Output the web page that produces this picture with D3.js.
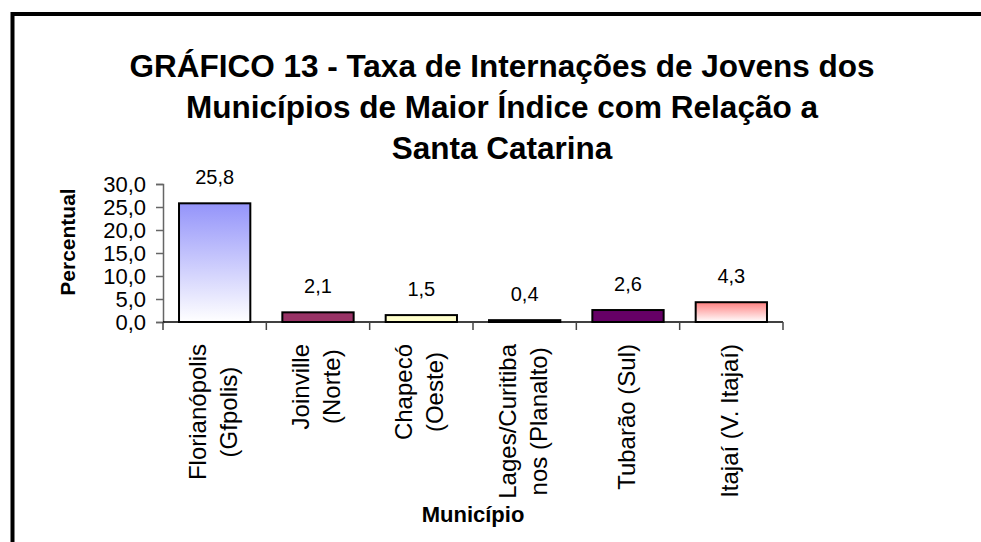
<!DOCTYPE html>
<html>
<head>
<meta charset="utf-8">
<script src="https://cdn.jsdelivr.net/npm/d3@7"></script>
<style>
  body { margin: 0; background: #fff; }
  text { font-family: "Liberation Sans", Arial, sans-serif; fill: #000; }
</style>
</head>
<body>
<div id="chart"></div>
<script>
var categories = [
  ["Florianópolis", "(Gfpolis)"],
  ["Joinville", "(Norte)"],
  ["Chapecó", "(Oeste)"],
  ["Lages/Curitiba", "nos (Planalto)"],
  ["Tubarão (Sul)"],
  ["Itajaí (V. Itajaí)"]
];
var values = [25.8, 2.1, 1.5, 0.4, 2.6, 4.3];
var yTicks = [0, 5, 10, 15, 20, 25, 30];
var titleLines = [
  "GRÁFICO 13 - Taxa de Internações de Jovens dos",
  "Municípios de Maior Índice com Relação a",
  "Santa Catarina"
];

var width = 981,
height = 542;

var svg = d3.select("#chart")
.append("svg")
.attr("width", width)
.attr("height", height);

// frame (runs off the right and bottom edges)
svg.append("rect")
.attr("x", 12.5)
.attr("y", 14)
.attr("width", width + 20)
.attr("height", height + 20)
.attr("fill", "#fff")
.attr("stroke", "#000")
.attr("stroke-width", 4);

// gradients for the first and last bars
var defs = svg.append("defs");
function gradient(id, top) {
  var g = defs.append("linearGradient")
  .attr("id", id)
  .attr("x1", 0).attr("y1", 0).attr("x2", 0).attr("y2", 1);
  g.append("stop").attr("offset", "0%").attr("stop-color", top);
  g.append("stop").attr("offset", "100%").attr("stop-color", "#ffffff");
}
gradient("gBlue", "#9494fa");
gradient("gRed", "#ff8080");

var fills = ["url(#gBlue)", "#993366", "#ffffcc", "#ccffff", "#660066", "url(#gRed)"];

var xScale = d3.scaleBand()
.domain(d3.range(categories.length))
.range([163, 783])
.paddingInner(0.31)
.paddingOuter(0.155);

var yScale = d3.scaleLinear()
.domain([0, 30])
.range([322, 184]);

var comma = d3.formatLocale({decimal: ",", thousands: ".", grouping: [3], currency: ["R$", ""]}).format(".1f");

// title
svg.append("text")
.attr("text-anchor", "middle")
.style("font-size", "31.5px")
.style("font-weight", "bold")
.selectAll("tspan")
.data(titleLines)
.enter()
.append("tspan")
.attr("x", 502)
.attr("y", function(d, i) { return 77 + i * 41; })
.text(function(d) { return d; });

// y axis
var yAxis = d3.axisLeft(yScale)
.tickValues(yTicks)
.tickSize(7)
.tickPadding(10)
.tickFormat(comma);

var gy = svg.append("g")
.attr("transform", "translate(163,0)")
.call(yAxis);
gy.select(".domain").attr("stroke", "#666").attr("stroke-width", 1.5);
gy.selectAll(".tick line").attr("stroke", "#666").attr("stroke-width", 1.5);
gy.selectAll(".tick text")
.style("font-size", "22px")
.style("font-family", "'Liberation Sans', Arial, sans-serif")
.attr("fill", "#000");

// bars
svg.selectAll(".bar")
.data(values)
.enter()
.append("rect")
.attr("class", "bar")
.attr("x", function(d, i) { return xScale(i); })
.attr("width", xScale.bandwidth())
.attr("y", function(d) { return yScale(d); })
.attr("height", function(d) { return yScale(0) - yScale(d); })
.attr("fill", function(d, i) { return fills[i]; })
.attr("stroke", "#000")
.attr("stroke-width", 2);

// x axis line and tick marks at band edges
svg.append("line")
.attr("x1", 163).attr("x2", 783)
.attr("y1", yScale(0)).attr("y2", yScale(0))
.attr("stroke", "#000")
.attr("stroke-width", 1.5);

svg.selectAll(".xtick")
.data(d3.range(categories.length + 1))
.enter()
.append("line")
.attr("class", "xtick")
.attr("x1", function(i) { return 163 + i * xScale.step(); })
.attr("x2", function(i) { return 163 + i * xScale.step(); })
.attr("y1", yScale(0))
.attr("y2", yScale(0) + 8)
.attr("stroke", "#444")
.attr("stroke-width", 1.5);

// value labels
svg.selectAll(".val")
.data(values)
.enter()
.append("text")
.attr("class", "val")
.attr("x", function(d, i) { return xScale(i) + xScale.bandwidth() / 2; })
.attr("y", function(d) { return yScale(d) - 19; })
.attr("text-anchor", "middle")
.style("font-size", "20px")
.text(function(d) { return comma(d); });

// category labels, rotated, block anchored near the axis, lines centred in block
var catFont = 24, lineGap = 31, labelTop = 344;
categories.forEach(function(lines, i) {
  var cx = xScale(i) + xScale.bandwidth() / 2 - 2;
  var g = svg.append("g");
  var texts = lines.map(function(s, k) {
    return g.append("text")
    .attr("text-anchor", "middle")
    .style("font-size", catFont + "px")
    .text(s);
  });
  var maxLen = d3.max(texts, function(t) { return t.node().getComputedTextLength(); });
  var cy = labelTop + maxLen / 2;
  texts.forEach(function(t, k) {
    var bx = cx + (k - (lines.length - 1) / 2) * lineGap + 0.36 * catFont;
    t.attr("transform", "translate(" + bx + "," + cy + ") rotate(-90)");
  });
});

// axis titles
svg.append("text")
.attr("transform", "translate(75,242) rotate(-90)")
.attr("text-anchor", "middle")
.style("font-size", "21px")
.style("font-weight", "bold")
.text("Percentual");

svg.append("text")
.attr("x", 473)
.attr("y", 522)
.attr("text-anchor", "middle")
.style("font-size", "22px")
.style("font-weight", "bold")
.text("Município");
</script>
</body>
</html>
